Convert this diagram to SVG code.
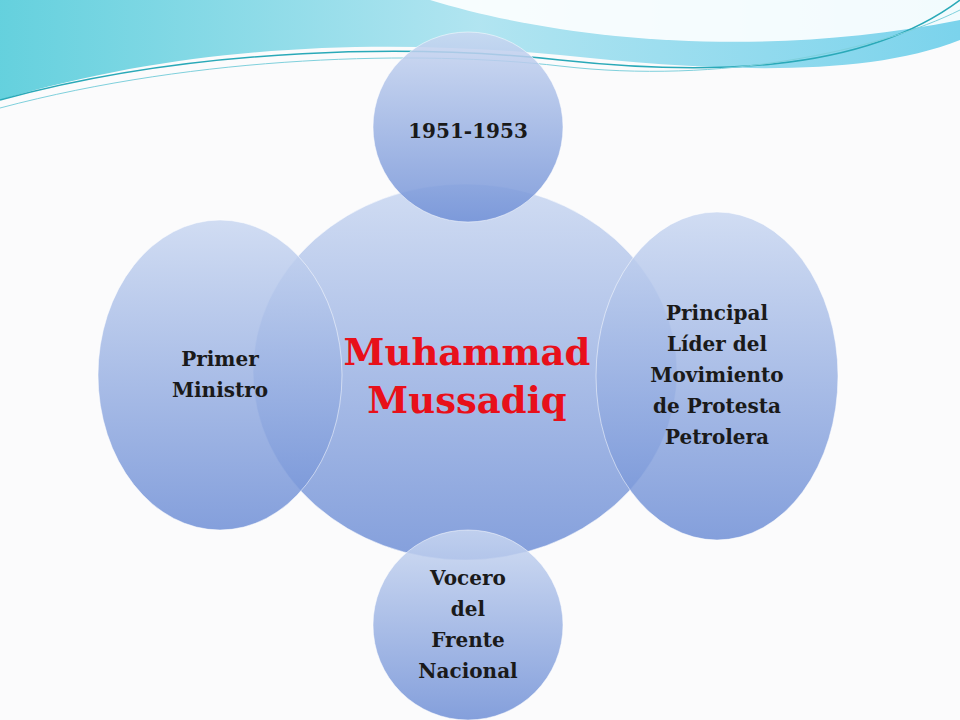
<svg xmlns="http://www.w3.org/2000/svg" width="960" height="720" viewBox="0 0 960 720">
<defs>
<linearGradient id="g" x1="0" y1="0" x2="0" y2="1"><stop offset="0" stop-color="#c9d7f1" stop-opacity="0.85"/><stop offset="1" stop-color="#6f8fd6" stop-opacity="0.85"/></linearGradient>
<linearGradient id="w" x1="0" y1="0" x2="1" y2="0"><stop offset="0" stop-color="#3fc6d6"/><stop offset="0.5" stop-color="#9fdfee"/><stop offset="1" stop-color="#5bc9e8"/></linearGradient>
<style>.n{fill:url(#g);stroke:#fff;stroke-opacity:0.5;stroke-width:1}.t{font-family:"DejaVu Serif",serif;font-weight:bold;font-size:20px;fill:#1a1a1a;text-anchor:middle}.c{font-family:"DejaVu Serif",serif;font-weight:bold;font-size:37px;fill:#e8101a;text-anchor:middle}</style>
</defs>
<rect width="960" height="720" fill="#fbfbfc"/>
<g id="wave">
<path d="M0 0H960V40C860 80 700 70 560 55C400 40 200 40 0 100Z" fill="url(#w)" opacity="0.8"/>
<path d="M430 0C560 40 760 60 960 20V0Z" fill="#ffffff" opacity="0.9"/>
<path d="M0 100C200 45 420 45 560 60C700 75 860 75 960 0" fill="none" stroke="#2aa9b8" stroke-width="1.5"/>
<path d="M0 108C200 55 420 50 560 66C720 85 880 50 960 10" fill="none" stroke="#7fd0dc" stroke-width="1"/>
</g>
<g id="center"><ellipse class="n" cx="465" cy="372" rx="212" ry="188"/><text class="c" x="467" y="365">Muhammad</text><text class="c" x="467" y="413">Mussadiq</text></g>
<g id="top"><circle class="n" cx="468" cy="127" r="95"/><text class="t" x="468" y="138">1951-1953</text></g>
<g id="bottom"><circle class="n" cx="468" cy="625" r="95"/><text class="t" x="468" y="585">Vocero</text><text class="t" x="468" y="616">del</text><text class="t" x="468" y="647">Frente</text><text class="t" x="468" y="678">Nacional</text></g>
<g id="left"><ellipse class="n" cx="220" cy="375" rx="122" ry="155"/><text class="t" x="220" y="366">Primer</text><text class="t" x="220" y="397">Ministro</text></g>
<g id="right"><ellipse class="n" cx="717" cy="376" rx="121" ry="164"/><text class="t" x="717" y="320">Principal</text><text class="t" x="717" y="351">Líder del</text><text class="t" x="717" y="382">Movimiento</text><text class="t" x="717" y="413">de Protesta</text><text class="t" x="717" y="444">Petrolera</text></g>
<g id="connectors"/>
</svg>
